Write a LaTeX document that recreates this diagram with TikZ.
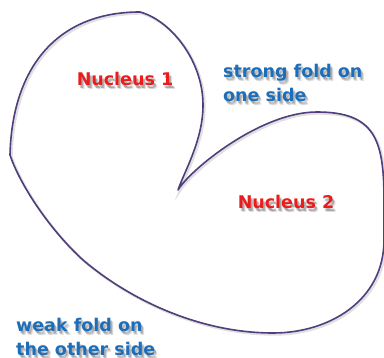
\documentclass[tikz,border=0pt]{standalone}
\usepackage{fontspec}
\setmainfont{DejaVu Sans}
\definecolor{outline}{RGB}{80,62,124}
\definecolor{nucred}{RGB}{236,28,28}
\definecolor{foldblue}{RGB}{28,110,186}
\begin{document}
\begin{tikzpicture}[x=1pt,y=-1pt,
  lbl/.style={font=\fontsize{17.5}{24}\selectfont\bfseries, inner sep=0pt},
  nuc/.style={lbl, text=nucred},
  fold/.style={lbl, text=foldblue, align=left, anchor=west},
  shade/.style={text=black, opacity=0.13},
  rim/.style={draw=outline, line width=1.6pt, line join=round, line cap=round}]
\useasboundingbox (0,0) rectangle (384,358);

% outline of the two-lobed fold, with a faint shadow beneath it
\def\foldpath{(10,155) .. controls (12,70) and (55,12) .. (140,12)
  .. controls (170,20) and (203,60) .. (203,105)
  .. controls (203,140) and (185,170) .. (178,190)
  .. controls (190,170) and (260,112) .. (317,112)
  .. controls (375,112) and (384,140) .. (384,200)
  -- (384,240)
  .. controls (384,300) and (330,333) .. (273,333)
  .. controls (200,333) and (130,300) .. (83,260)
  .. controls (50,230) and (20,185) .. (10,155)}
\draw[draw=black, opacity=0.12, line width=2.4pt, shift={(1.5,1.5)}] \foldpath;
\draw[rim] \foldpath;

% soft drop shadows under the labels
\foreach \dx/\dy in {2/3,3/4,1.5/2.5}{
  \begin{scope}[shift={(\dx,\dy)}]
    \node[nuc, shade] (s1) at (125,79) {Nucleus 1};
    \node[nuc, shade] (s2) at (286,202) {Nucleus 2};
    \node[fold, shade] (s3) at (223,82.5) {strong fold on\\one side};
    \node[fold, shade] (s4) at (16,336.5) {weak fold on\\the other side};
  \end{scope}
}

% labels
\node[nuc] (n1) at (125,79) {Nucleus 1};
\node[nuc] (n2) at (286,202) {Nucleus 2};
\node[fold] (strong) at (223,82.5) {strong fold on\\one side};
\node[fold] (weak) at (16,336.5) {weak fold on\\the other side};
\end{tikzpicture}
\end{document}
